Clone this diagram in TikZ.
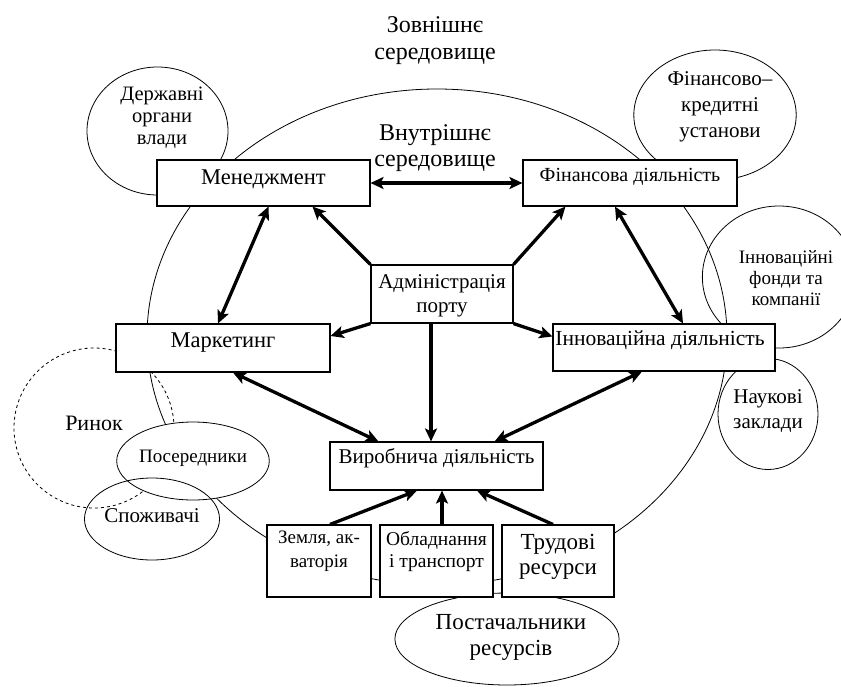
\documentclass[tikz,border=0pt]{standalone}
\usepackage{fontspec}
\setmainfont{Liberation Serif}
\usetikzlibrary{arrows.meta,calc,shapes.geometric}
\newcommand\myfs[2]{\fontsize{#1}{#2}\selectfont}
\newcommand\boxtxt[2]{\raisebox{#1}[0pt][0pt]{\begin{tabular}[t]{@{}c@{}}#2\end{tabular}}}
\begin{document}
\begin{tikzpicture}[x=1pt,y=-1pt,
  box/.style={draw, rectangle, line width=1.1pt, fill=white, inner sep=0pt},
  oval/.style={draw, ellipse, line width=0.8pt, inner sep=0pt},
  thinline/.style={line width=0.8pt},
  arr/.style={line width=3.3pt, -{Stealth[length=13pt,width=12pt,inset=3pt]}},
  darr/.style={line width=3.3pt, {Stealth[length=13pt,width=12pt,inset=3pt]}-{Stealth[length=13pt,width=12pt,inset=3pt]}},
  free/.style={anchor=base, inner sep=0pt}]
\useasboundingbox (0,0) rectangle (841,686);

% inner environment
\draw[thinline] (437,337) ellipse [x radius=290pt, y radius=248pt];
% market (dashed)
\node[oval, dashed, minimum width=160pt, minimum height=160pt, font=\myfs{22}{26}] (ryn) at (94,428) {\boxtxt{-2pt}{Ринок}};

% outer circles
\node[oval, minimum width=141pt, minimum height=128pt, font=\myfs{20.5}{22}] (der) at (157.5,131) {\boxtxt{31pt}{\hspace*{9pt}\begin{tabular}[t]{@{}c@{}}Державні\\органи\\влади\end{tabular}}};
\node[oval, minimum width=142pt, minimum height=130pt, font=\myfs{21}{26}] (fk) at (715,115) {\boxtxt{30pt}{\hspace*{10pt}\begin{tabular}[t]{@{}c@{}}Фінансово–\\кредитні\\установи\end{tabular}}};
\node[oval, minimum width=120pt, minimum height=142pt, font=\myfs{19}{21}] (fond) at (779,277) {\boxtxt{14pt}{\hspace*{14pt}\begin{tabular}[t]{@{}c@{}}Інноваційні\\фонди та\\компанії\end{tabular}}};
\node[oval, minimum width=100pt, minimum height=111pt, font=\myfs{21}{25}] (nauk) at (768,414) {\boxtxt{11pt}{Наукові\\заклади}};
\node[oval, minimum width=172pt, minimum height=92pt, font=\myfs{23}{26}] (post) at (507,639) {\boxtxt{10pt}{\hspace*{8pt}\begin{tabular}[t]{@{}c@{}}Постачальники\\ресурсів\end{tabular}}};
\node[oval, fill=white, minimum width=130pt, minimum height=78pt, font=\myfs{19}{22}] (pos) at (193,461) {\boxtxt{-1pt}{Посередники}};
\node[oval, minimum width=134pt, minimum height=82pt, font=\myfs{21}{24}] (spo) at (152,519) {\boxtxt{-3pt}{Споживачі}};

% boxes
\node[box, minimum width=213pt, minimum height=46pt, font=\myfs{22.5}{26}] (men) at (263.5,183) {\boxtxt{-1pt}{Менеджмент}};
\node[box, minimum width=214pt, minimum height=46pt, font=\myfs{20}{24}] (fin) at (630,183) {\boxtxt{2pt}{Фінансова діяльність}};
\node[box, minimum width=142pt, minimum height=58pt, font=\myfs{21}{24}] (adm) at (442,294) {\boxtxt{6pt}{Адміністрація\\порту}};
\node[box, minimum width=214pt, minimum height=48pt, font=\myfs{22.5}{26}] (mar) at (223,348) {\boxtxt{1pt}{Маркетинг}};
\node[box, minimum width=222pt, minimum height=47pt, font=\myfs{21.5}{24}] (inn) at (664,347.5) {\boxtxt{2.5pt}{Інноваційна діяльність\hspace*{8pt}}};
\node[box, minimum width=213pt, minimum height=48pt, font=\myfs{21}{24}] (vyr) at (436.5,466) {\boxtxt{3pt}{Виробнича діяльність}};
\node[box, minimum width=104pt, minimum height=72pt, font=\myfs{19}{24}] (zem) at (319,561) {\boxtxt{18pt}{Земля, ак-\\ваторія}};
\node[box, minimum width=113pt, minimum height=72pt, font=\myfs{19.5}{22}] (obl) at (436.5,561) {\boxtxt{16pt}{Обладнання\\і транспорт}};
\node[box, minimum width=112pt, minimum height=72pt, font=\myfs{23}{25}] (tru) at (558,561) {\boxtxt{12pt}{Трудові\\ресурси}};

% arrows
\draw[darr] (men.east) -- (fin.west);
\draw[darr] ([xshift=5pt]men.south) -- ([xshift=-5pt]mar.north);
\draw[arr] (adm.north west) -- ([xshift=49pt]men.south);
\draw[arr] (adm.north east) -- ([xshift=43pt]fin.south west);
\draw[arr] (adm.south west) -- ([yshift=12pt]mar.east);
\draw[arr] (adm.south east) -- ([yshift=11pt]inn.west);
\draw[arr] ([xshift=-11pt]adm.south) -- ([xshift=-5.5pt]vyr.north);
\draw[darr] ([xshift=10pt]mar.south) -- ([xshift=49pt]vyr.north west);
\draw[darr] ([xshift=-22pt]inn.south) -- ([xshift=-49pt]vyr.north east);
\draw[darr] ([xshift=-15pt]fin.south) -- ([xshift=19pt]inn.north);
\draw[arr] ([xshift=11pt]zem.north) -- ([xshift=-19.5pt]vyr.south);
\draw[arr] ([xshift=5.5pt]obl.north) -- ([xshift=5.5pt]vyr.south);
\draw[arr] ([xshift=-5pt]tru.north) -- ([xshift=40.5pt]vyr.south);

% environment labels
\node[free, font=\myfs{24}{27}] (outer) at (435,32) {\begin{tabular}[t]{@{}c@{}}Зовнішнє\\середовище\end{tabular}};
\node[free, font=\myfs{24}{26}] (inner) at (435,140) {\begin{tabular}[t]{@{}c@{}}Внутрішнє\\середовище\end{tabular}};
\end{tikzpicture}
\end{document}
